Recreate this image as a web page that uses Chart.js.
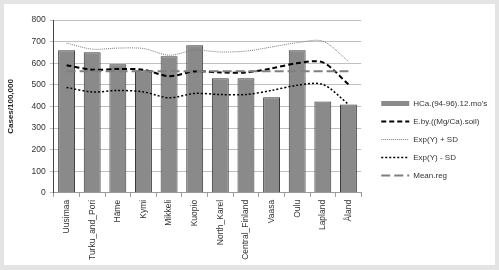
<!DOCTYPE html>
<html>
<head>
<meta charset="utf-8">
<script src="https://cdn.jsdelivr.net/npm/chart.js@4"></script>
<style>
  html, body { margin: 0; padding: 0; background: #e4e4e4; }
  #wrap { position: absolute; left: 4px; top: 4px; width: 491px; height: 261px; background: #ffffff; }
</style>
</head>
<body>
<div id="wrap"><canvas id="chart"></canvas></div>
<script>
const categories = ['Uusimaa', 'Turku_and_Pori', 'Häme', 'Kymi', 'Mikkeli', 'Kuopio', 'North_Karel', 'Central_Finland', 'Vaasa', 'Oulu', 'Lapland', 'Åland'];
const hcaValues = [660, 651, 595, 567, 632, 683, 530, 530, 442, 660, 423, 409];
const ebyValues = [591, 570, 573, 570, 540, 562, 557, 557, 576, 600, 604, 502];
const expPlusSd = [693, 665, 670, 668, 637, 660, 652, 656, 675, 695, 702, 609];
const expMinusSd = [488, 467, 474, 467, 440, 460, 455, 455, 474, 498, 502, 410];
const meanReg = [563, 563, 563, 563, 563, 563, 563, 563, 563, 563, 563, 563];
const yTicks = [0, 100, 200, 300, 400, 500, 600, 700, 800];

const font = 'Liberation Sans';

// shift the legend right so there is a gap after the plot, like the original
const legendGap = {
    id: 'legendGap',
    afterInit(chart) {
        const lg = chart.legend;
        if (!lg) return;
        const fit = lg.fit.bind(lg);
        lg.fit = function () { fit(); this.width += 10; };
        const draw = lg.draw.bind(lg);
        lg.draw = function () {
            const ctx = this.ctx;
            ctx.save();
            ctx.translate(10, -2);
            draw();
            ctx.restore();
        };
    }
};

new Chart(document.getElementById('chart').getContext('2d'), {
    type: 'bar',
    data: {
        labels: categories,
        datasets: [
            {
                type: 'bar',
                label: "HCa.(94-96).12.mo's",
                data: hcaValues,
                backgroundColor: '#8a8a8a',
                borderColor: '#3a3a3a',
                borderWidth: 1,
                barPercentage: 0.66,
                categoryPercentage: 1,
                order: 10
            },
            {
                type: 'line',
                label: 'E.by.((Mg/Ca).soil)',
                data: ebyValues,
                borderColor: '#000000',
                borderWidth: 2,
                borderDash: [5, 3],
                pointRadius: 0,
                tension: 0.3,
                order: 2
            },
            {
                type: 'line',
                label: 'Exp(Y) + SD',
                data: expPlusSd,
                borderColor: '#7a7a7a',
                borderWidth: 1,
                borderDash: [1, 1],
                pointRadius: 0,
                tension: 0.3,
                order: 3
            },
            {
                type: 'line',
                label: 'Exp(Y) - SD',
                data: expMinusSd,
                borderColor: '#000000',
                borderWidth: 1.5,
                borderDash: [2, 2],
                pointRadius: 0,
                tension: 0.3,
                order: 4
            },
            {
                type: 'line',
                label: 'Mean.reg',
                data: meanReg,
                borderColor: '#7f7f7f',
                borderWidth: 2,
                borderDash: [9, 4],
                pointRadius: 0,
                tension: 0,
                order: 1
            }
        ]
    },
    options: {
        responsive: true,
        maintainAspectRatio: false,
        animation: false,
        layout: { padding: { top: 16, right: 2, left: 2, bottom: 2 } },
        plugins: {
            legend: {
                position: 'right',
                align: 'center',
                labels: {
                    font: { family: font, size: 8 },
                    color: '#333333',
                    usePointStyle: true,
                    pointStyleWidth: 28,
                    boxHeight: 5,
                    padding: 10,
                    generateLabels(chart) {
                        return chart.data.datasets.map((ds, i) => ({
                            text: ds.label,
                            datasetIndex: i,
                            fillStyle: ds.type === 'bar' ? ds.backgroundColor : 'rgba(0,0,0,0)',
                            strokeStyle: ds.type === 'bar' ? '#8a8a8a' : ds.borderColor,
                            lineWidth: ds.type === 'bar' ? 0 : ds.borderWidth,
                            lineDash: ds.borderDash || [],
                            pointStyle: ds.type === 'bar' ? 'rect' : 'line',
                            fontColor: '#333333'
                        }));
                    }
                }
            },
            tooltip: { enabled: false }
        },
        scales: {
            x: {
                offset: true,
                grid: { display: true, drawOnChartArea: false, drawTicks: true, tickLength: 4, color: '#9a9a9a', offset: true },
                border: { color: '#9a9a9a' },
                ticks: {
                    font: { family: font, size: 8.5 },
                    color: '#333333',
                    minRotation: 90,
                    maxRotation: 90,
                    autoSkip: false,
                    padding: 3
                }
            },
            y: {
                min: 0,
                max: 800,
                afterBuildTicks(axis) { axis.ticks = yTicks.map(v => ({ value: v })); },
                grid: { color: '#c0c0c0', tickLength: 4 },
                border: { color: '#444444' },
                ticks: {
                    font: { family: font, size: 8.5 },
                    color: '#333333',
                    padding: 4
                },
                title: {
                    display: true,
                    text: 'Cases/100,000',
                    font: { family: font, size: 8, weight: 'bold' },
                    color: '#222222',
                    padding: { top: 0, bottom: 12 }
                }
            }
        }
    },
    plugins: [legendGap]
});
</script>
</body>
</html>
